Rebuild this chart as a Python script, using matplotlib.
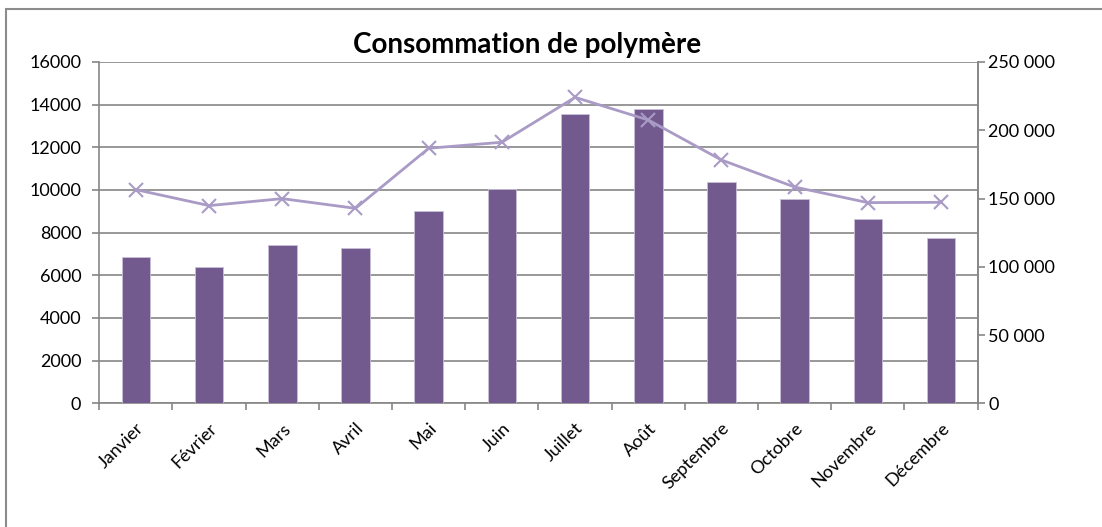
import matplotlib
matplotlib.use("Agg")
import matplotlib.pyplot as plt
import matplotlib.ticker as mticker
from matplotlib.patches import Rectangle
import numpy as np

months = ["Janvier", "Février", "Mars", "Avril", "Mai", "Juin", "Juillet",
          "Août", "Septembre", "Octobre", "Novembre", "Décembre"]
bar_values = [6850, 6375, 7400, 7280, 9000, 10030, 13550, 13800, 10360, 9560, 8640, 7750]
line_values = [156500, 144800, 149900, 142800, 186800, 191200, 224100, 207500,
               178200, 158400, 147000, 147200]
left_ticks = [0, 2000, 4000, 6000, 8000, 10000, 12000, 14000, 16000]
right_ticks = [0, 50000, 100000, 150000, 200000, 250000]
title = "Consommation de polymère"

plt.rcParams['font.family'] = ['Lato', 'DejaVu Sans']
grey = "#868686"
bar_color = "#725a8f"
line_color = "#a99bc6"

fig = plt.figure(figsize=(11.02, 5.27), dpi=100)
fig.patches.append(Rectangle((6/1102, -0.1), 1.2, 1 - 9/527 + 0.1, transform=fig.transFigure,
                             fill=False, edgecolor="#8c8c8c", linewidth=1.5, zorder=0))

ax = fig.add_axes([0.0901, 0.2347, 0.7971, 0.6477])
x = np.arange(len(months))
ax.bar(x, bar_values, width=0.39, color=bar_color, edgecolor="#c9c0d8", linewidth=0.6, zorder=3)
ax.set_xlim(-0.5, len(months) - 0.5)
ax.set_ylim(0, 16000)
ax.set_yticks(left_ticks)
ax.yaxis.set_major_formatter(mticker.FuncFormatter(lambda v, p: f"{int(v)}"))
ax.grid(axis='y', color=grey, linewidth=1.2, zorder=0)
ax.set_axisbelow(True)

ax.set_xticks(np.arange(-0.5, len(months), 1.0), minor=False)
ax.set_xticklabels([])
ax.set_xticks(x, minor=True)
ax.set_xticklabels(months, minor=True, rotation=45, ha='right', va='top',
                   rotation_mode='anchor', fontsize=13)
ax.tick_params(axis='x', which='minor', length=0, pad=12)
ax.tick_params(axis='x', which='major', length=5, width=1.2, color=grey, direction='out')
ax.tick_params(axis='y', length=5, width=1.2, color=grey, labelsize=13, pad=8)

for s in ['top']:
    ax.spines[s].set_visible(False)
for s in ['left', 'bottom', 'right']:
    ax.spines[s].set_color(grey)
    ax.spines[s].set_linewidth(1.2)

ax2 = ax.twinx()
ax2.plot(x, line_values, color=line_color, linewidth=2, marker='x', markersize=10,
         markeredgewidth=1.5, zorder=4)
ax2.set_ylim(0, 250000)
ax2.set_yticks(right_ticks)
ax2.yaxis.set_major_formatter(mticker.FuncFormatter(
    lambda v, p: f"{int(v):,}".replace(",", " ")))
ax2.tick_params(axis='y', length=5, width=1.2, color=grey, labelsize=13, pad=2.5)
for s in ['top', 'left', 'bottom']:
    ax2.spines[s].set_visible(False)
ax2.spines['right'].set_color(grey)
ax2.spines['right'].set_linewidth(1.2)

fig.text(0.478, 0.915, title, ha='center', va='center', fontsize=20, fontweight='bold')

fig.savefig("out.png", dpi=100)
